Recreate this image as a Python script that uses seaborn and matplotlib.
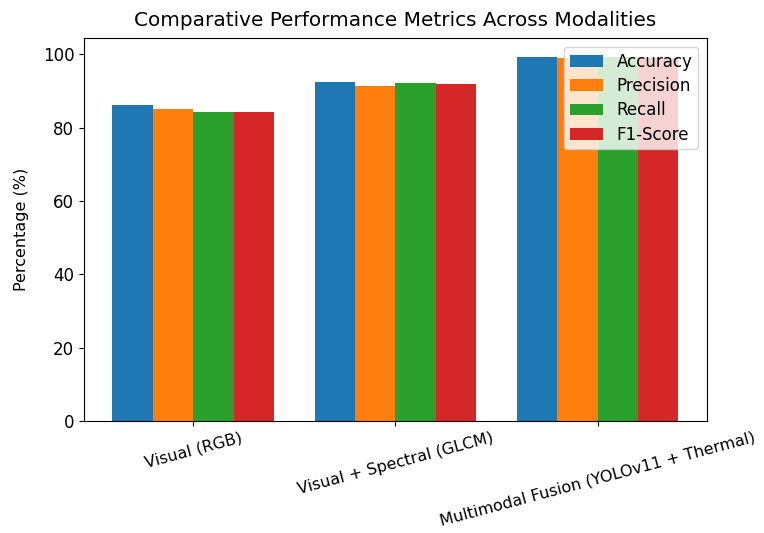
import pandas as pd
import numpy as np
import matplotlib
matplotlib.use("Agg")
import matplotlib.pyplot as plt
import seaborn as sns

# ===============================
# DATA
# ===============================
MODALITIES = ["Visual (RGB)", "Visual + Spectral (GLCM)", "Multimodal Fusion (YOLOv11 + Thermal)"]
METRICS = ["Accuracy", "Precision", "Recall", "F1-Score"]
accuracy = [86.3, 92.6, 99.4]
precision = [85.0, 91.3, 99.1]
recall = [84.2, 92.1, 99.2]
f1_score = [84.4, 91.8, 99.1]
COLORS = ["#1f77b4", "#ff7f0e", "#2ca02c", "#d62728"]

rows = []
for metric, vals in zip(METRICS, [accuracy, precision, recall, f1_score]):
    for mod, v in zip(MODALITIES, vals):
        rows.append({"Modality": mod, "Metric": metric, "Value": v})
df = pd.DataFrame(rows)

# ===============================
# PLOT
# ===============================
plt.rcParams["font.size"] = 12
fig, ax = plt.subplots(figsize=(7.64, 5.33), dpi=100)
fig.subplots_adjust(left=0.11, right=0.925, top=0.928, bottom=0.21)

sns.barplot(
    data=df, x="Modality", y="Value", hue="Metric",
    order=MODALITIES, hue_order=METRICS, palette=COLORS,
    saturation=1, errorbar=None, width=0.8, linewidth=0, ax=ax
)

ax.set_xlim(-0.54, 2.54)
ax.set_ylim(0, max(accuracy) * 1.05)
ax.set_xlabel("")
ax.set_ylabel("Percentage (%)", fontsize=11.5, labelpad=10)
ax.set_title("Comparative Performance Metrics Across Modalities", fontsize=14.4, pad=9)
ax.tick_params(axis="y", labelsize=12)
ax.tick_params(axis="x", labelsize=11.5, pad=3)
plt.setp(ax.get_xticklabels(), rotation=15, ha="center")

handles, labels = ax.get_legend_handles_labels()
ax.legend(handles, labels, loc="upper right", fontsize=12,
          labelspacing=0.38, borderpad=0.35)

fig.savefig("out.png", dpi=100)
plt.close(fig)
